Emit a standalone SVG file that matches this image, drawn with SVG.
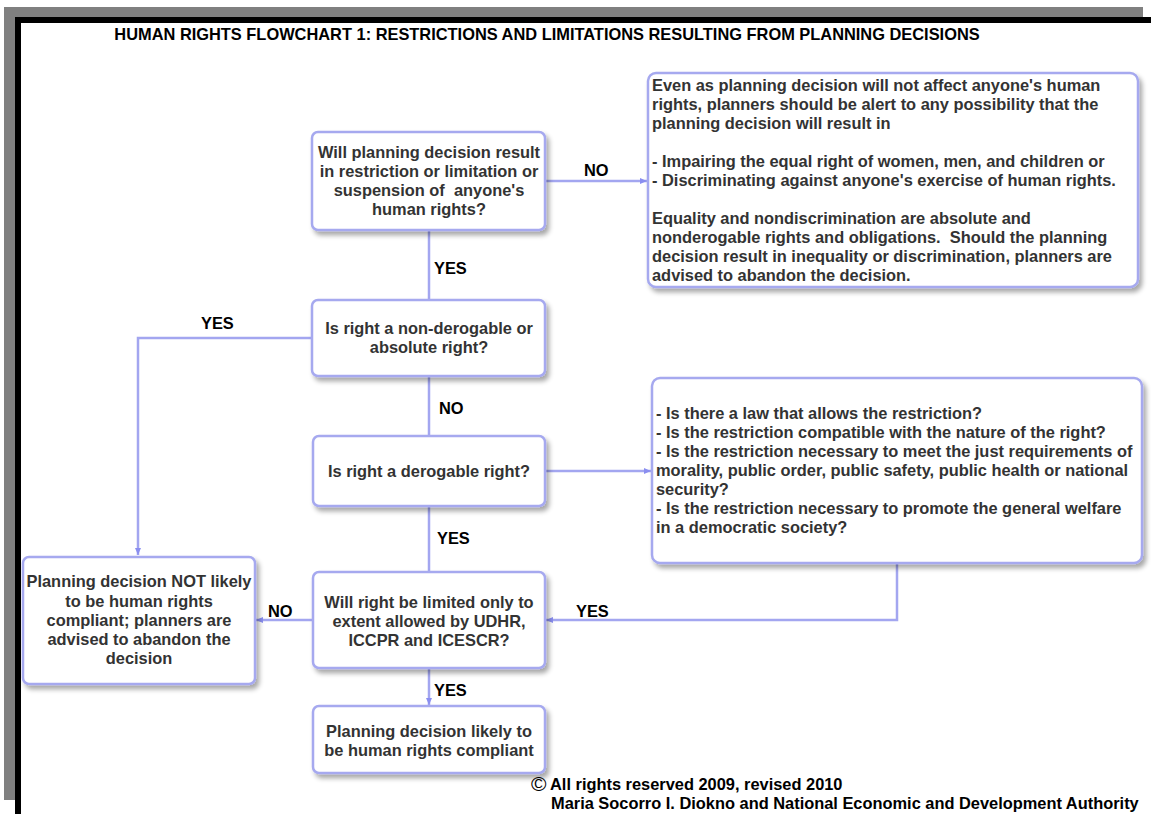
<svg xmlns="http://www.w3.org/2000/svg" width="1151" height="814" viewBox="0 0 1151 814">
<style>
.box{fill:#fff;stroke:#a6a9ef;stroke-width:2.5;filter:url(#sh)}
.t{font-family:"Liberation Sans",Arial,sans-serif;font-weight:bold;font-size:16.4px;fill:#333}
.c{text-anchor:middle}
.lbl{font-family:"Liberation Sans",Arial,sans-serif;font-weight:bold;font-size:16.4px;fill:#000}
.ln{fill:none;stroke:#a3a6f0;stroke-width:2.5}
.ar{marker-end:url(#ah)}
</style>
<defs>
<filter id="sh" x="-10%" y="-10%" width="125%" height="130%">
<feGaussianBlur in="SourceAlpha" stdDeviation="2.5"/>
<feOffset dx="3" dy="4" result="b"/>
<feComponentTransfer><feFuncA type="linear" slope="0.35"/></feComponentTransfer>
<feMerge><feMergeNode/><feMergeNode in="SourceGraphic"/></feMerge>
</filter>
<marker id="ah" markerWidth="8" markerHeight="8" refX="7" refY="4" orient="auto" markerUnits="userSpaceOnUse">
<path d="M0,1 L7,4 L0,7 Z" fill="#8a8ef0"/>
</marker>
</defs>
<rect x="0" y="0" width="1151" height="814" fill="#fff"/>
<g id="frame">
<rect x="4" y="7" width="1139" height="10" fill="#808080"/>
<rect x="4" y="7" width="11" height="793" fill="#808080"/>
<rect x="15" y="17" width="1136" height="6" fill="#000"/>
<rect x="15" y="17" width="6" height="797" fill="#000"/>
</g>
<text id="title" x="547" y="40" class="lbl c">HUMAN RIGHTS FLOWCHART 1: RESTRICTIONS AND LIMITATIONS RESULTING FROM PLANNING DECISIONS</text>

<g id="connectors">
<path class="ln ar" d="M545,181 H647"/>
<path class="ln" d="M429,230 V300"/>
<path class="ln ar" d="M312,338 H138 V555"/>
<path class="ln" d="M429,376 V436"/>
<path class="ln ar" d="M545,471 H651"/>
<path class="ln" d="M429,506 V572"/>
<path class="ln ar" d="M897,563 V620 H546"/>
<path class="ln ar" d="M313,620 H256"/>
<path class="ln ar" d="M429,668 V705"/>
<text class="lbl" x="584" y="176">NO</text>
<text class="lbl" x="434" y="274">YES</text>
<text class="lbl" x="201" y="329">YES</text>
<text class="lbl" x="439" y="414">NO</text>
<text class="lbl" x="437" y="544">YES</text>
<text class="lbl" x="576" y="617">YES</text>
<text class="lbl" x="268" y="617">NO</text>
<text class="lbl" x="434" y="696">YES</text>
</g>

<g id="q1">
<rect class="box" x="312" y="132" width="233" height="98" rx="6"/>
<text class="t c" x="429" y="158">Will planning decision result</text>
<text class="t c" x="429" y="177">in restriction or limitation or</text>
<text class="t c" x="429" y="196" xml:space="preserve">suspension of  anyone's</text>
<text class="t c" x="429" y="215">human rights?</text>
</g>

<g id="note1">
<rect class="box" x="648" y="73" width="490" height="214" rx="8"/>
<text class="t" x="652" y="91">Even as planning decision will not affect anyone's human</text>
<text class="t" x="652" y="110">rights, planners should be alert to any possibility that the</text>
<text class="t" x="652" y="129">planning decision will result in</text>
<text class="t" x="652" y="167">- Impairing the equal right of women, men, and children or</text>
<text class="t" x="652" y="186">- Discriminating against anyone's exercise of human rights.</text>
<text class="t" x="652" y="224">Equality and nondiscrimination are absolute and</text>
<text class="t" x="652" y="243" xml:space="preserve">nonderogable rights and obligations.  Should the planning</text>
<text class="t" x="652" y="262">decision result in inequality or discrimination, planners are</text>
<text class="t" x="652" y="281">advised to abandon the decision.</text>
</g>

<g id="q2">
<rect class="box" x="312" y="300" width="233" height="76" rx="6"/>
<text class="t c" x="429" y="334">Is right a non-derogable or</text>
<text class="t c" x="429" y="353">absolute right?</text>
</g>

<g id="q3">
<rect class="box" x="313" y="436" width="232" height="70" rx="6"/>
<text class="t c" x="429" y="477">Is right a derogable right?</text>
</g>

<g id="note2">
<rect class="box" x="652" y="378" width="490" height="185" rx="8"/>
<text class="t" x="656" y="419">- Is there a law that allows the restriction?</text>
<text class="t" x="656" y="438">- Is the restriction compatible with the nature of the right?</text>
<text class="t" x="656" y="457">- Is the restriction necessary to meet the just requirements of</text>
<text class="t" x="656" y="476">morality, public order, public safety, public health or national</text>
<text class="t" x="656" y="495">security?</text>
<text class="t" x="656" y="514">- Is the restriction necessary to promote the general welfare</text>
<text class="t" x="656" y="533">in a democratic society?</text>
</g>

<g id="q4">
<rect class="box" x="313" y="572" width="232" height="96" rx="6"/>
<text class="t c" x="429" y="608">Will right be limited only to</text>
<text class="t c" x="429" y="627">extent allowed by UDHR,</text>
<text class="t c" x="429" y="646">ICCPR and ICESCR?</text>
</g>

<g id="notcompliant">
<rect class="box" x="23" y="557" width="232" height="127" rx="6"/>
<text class="t c" x="139" y="587">Planning decision NOT likely</text>
<text class="t c" x="139" y="607">to be human rights</text>
<text class="t c" x="139" y="626">compliant; planners are</text>
<text class="t c" x="139" y="645">advised to abandon the</text>
<text class="t c" x="139" y="664">decision</text>
</g>

<g id="compliant">
<rect class="box" x="313" y="706" width="232" height="67" rx="6"/>
<text class="t c" x="429" y="737">Planning decision likely to</text>
<text class="t c" x="429" y="756">be human rights compliant</text>
</g>

<g id="copyright">
<text class="lbl" x="531" y="791" style="font-size:21px;font-weight:normal">©</text>
<text class="lbl" x="550" y="790">All rights reserved 2009, revised 2010</text>
<text class="lbl" x="551" y="809">Maria Socorro I. Diokno and National Economic and Development Authority</text>
</g>
</svg>
